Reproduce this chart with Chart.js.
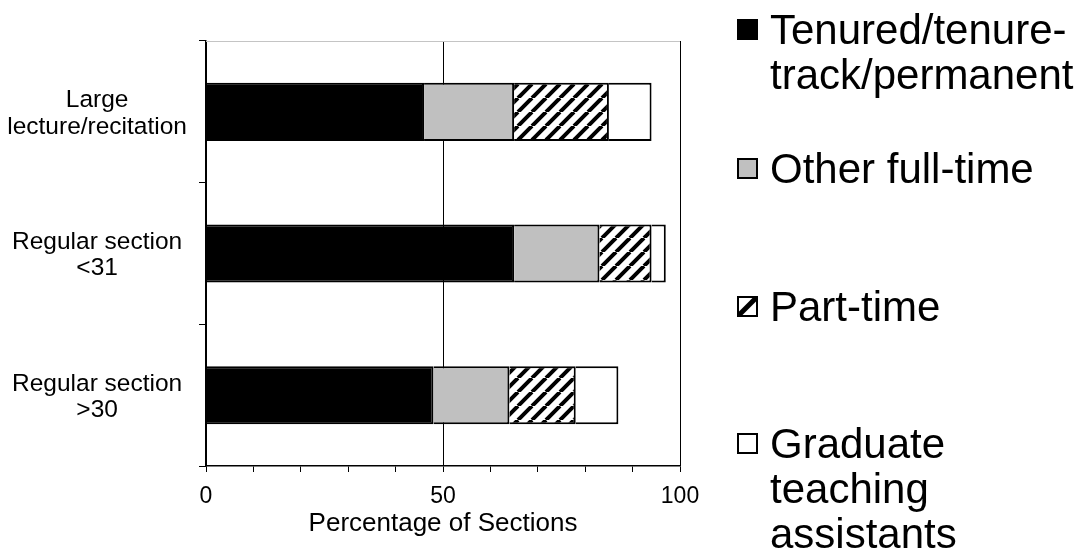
<!DOCTYPE html>
<html><head><meta charset="utf-8">
<script src="https://cdn.jsdelivr.net/npm/chart.js@4/dist/chart.umd.min.js"></script>
<style>html,body{margin:0;padding:0;background:#fff;overflow:hidden}#wrap{position:relative;width:1079px;height:560px}</style>
</head><body><div id="wrap"><canvas id="c" width="1079" height="560"></canvas></div>
<script>
// ---- data ----
const categories = [['Large', 'lecture/recitation'], ['Regular section', '<31'], ['Regular section', '>30']];
const seriesNames = ['Tenured/tenure-track/permanent', 'Other full-time', 'Part-time', 'Graduate teaching assistants'];
const legendLines = [['Tenured/tenure-', 'track/permanent'], ['Other full-time'], ['Part-time'], ['Graduate', 'teaching', 'assistants']];
const tenured = [46, 65, 48];
const otherFullTime = [19, 18, 16];
const partTime = [20, 11, 14];
const gradTA = [9, 3, 9];
const xTickLabels = [0, 50, 100];
const xAxisTitle = 'Percentage of Sections';

const FONT = "'Liberation Sans', Arial, sans-serif";

function makeHatch(P, lw) {
  const c = document.createElement('canvas'); c.width = P; c.height = P;
  const g = c.getContext('2d');
  g.fillStyle = '#fff'; g.fillRect(0, 0, P, P);
  g.strokeStyle = '#000'; g.lineWidth = lw;
  g.beginPath();
  for (let k = -1; k <= 1; k++) { g.moveTo(k * P, P); g.lineTo(k * P + P, 0); }
  g.stroke();
  return g.createPattern(c, 'repeat');
}
const hatch = makeHatch(14, 4);
const fills = ['#000000', '#c0c0c0', hatch, '#ffffff'];
const seriesData = [tenured, otherFullTime, partTime, gradTA];

const topLine = {
  id: 'topLine',
  afterDraw(chart) {
    const a = chart.chartArea, ctx = chart.ctx;
    ctx.save(); ctx.strokeStyle = '#c4c4c4'; ctx.lineWidth = 1;
    ctx.beginPath(); ctx.moveTo(a.left, Math.round(a.top) + 0.5); ctx.lineTo(a.right, Math.round(a.top) + 0.5); ctx.stroke();
    ctx.restore();
  }
};

const sideLegend = {
  id: 'sideLegend',
  afterDraw(chart) {
    const ctx = chart.ctx;
    const boxX = 737, box = 21, textX = 770, lh = 45;
    const baselines = [44, 183, 321, 458];
    ctx.save();
    ctx.font = '42px ' + FONT;
    ctx.textBaseline = 'alphabetic';
    ctx.fillStyle = '#000';
    chart.data.datasets.forEach((ds, i) => {
      const b = baselines[i];
      const by = Math.round(b - 15 - box / 2);
      if (i === 2) {
        ctx.fillStyle = '#fff'; ctx.fillRect(boxX, by, box, box);
        ctx.save(); ctx.beginPath(); ctx.rect(boxX, by, box, box); ctx.clip();
        ctx.strokeStyle = '#000'; ctx.lineWidth = 5;
        ctx.beginPath(); ctx.moveTo(boxX, by + box); ctx.lineTo(boxX + box, by); ctx.stroke();
        ctx.restore();
      } else {
        ctx.fillStyle = ds.backgroundColor; ctx.fillRect(boxX, by, box, box);
      }
      ctx.strokeStyle = '#000'; ctx.lineWidth = 2;
      ctx.strokeRect(boxX + 1, by + 1, box - 2, box - 2);
      ctx.fillStyle = '#000';
      legendLines[i].forEach((t, j) => ctx.fillText(t, textX, b + j * lh));
    });
    ctx.restore();
  }
};

new Chart(document.getElementById('c'), {
  type: 'bar',
  data: {
    labels: categories,
    datasets: seriesNames.map((n, i) => ({
      label: n,
      data: seriesData[i],
      backgroundColor: fills[i],
      borderColor: '#000',
      borderWidth: 2,
      barPercentage: 0.41,
      categoryPercentage: 1.0
    }))
  },
  options: {
    indexAxis: 'y',
    responsive: false,
    devicePixelRatio: 1,
    animation: false,
    layout: { padding: { top: 41, right: 399, bottom: 0, left: 0 } },
    plugins: { legend: { display: false }, tooltip: { enabled: false } },
    scales: {
      x: {
        type: 'linear', stacked: true, min: 0, max: 100,
        ticks: {
          stepSize: 10, autoSkip: false, maxRotation: 0, color: '#000', padding: 11,
          font: { family: FONT, size: 23 },
          callback: v => xTickLabels.includes(v) ? String(v) : ''
        },
        grid: {
          color: c => (c.tick && xTickLabels.includes(c.tick.value)) ? '#000' : 'rgba(0,0,0,0)',
          tickColor: '#000', tickLength: 6, lineWidth: 1
        },
        border: { color: '#000', width: 1.5 },
        title: { display: true, text: xAxisTitle, color: '#000', font: { family: FONT, size: 26 }, padding: { top: 0, bottom: 21 } },
        afterFit(s) { s.height = 94; }
      },
      y: {
        type: 'category', stacked: true, offset: true,
        grid: { offset: true, drawOnChartArea: false, color: '#000', tickLength: 7, lineWidth: 1 },
        border: { color: '#000', width: 1.5 },
        ticks: { color: '#000', crossAlign: 'center', padding: 12, labelOffset: 2, font: { family: FONT, size: 24.5, lineHeight: 1.07 } },
        afterFit(s) { s.width = 206; }
      }
    }
  },
  plugins: [topLine, sideLegend]
});
</script></body></html>
